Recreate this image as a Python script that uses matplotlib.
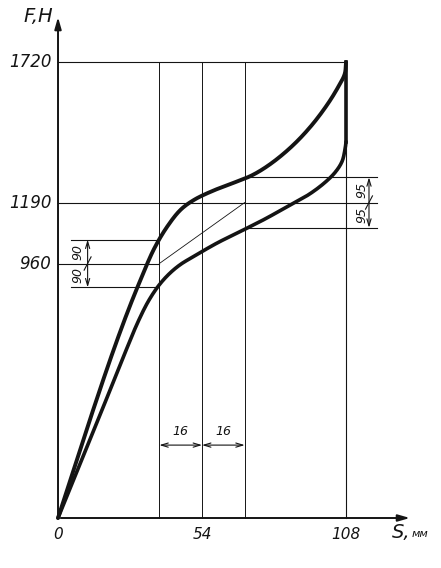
import numpy as np
import matplotlib
matplotlib.use("Agg")
import matplotlib.pyplot as plt

# ---- data ----
upper_s = [0, 12, 20, 26, 31, 36, 41, 46, 51, 58, 66, 73, 80, 88, 95, 101, 105, 107.5, 108]
upper_f = [0, 372, 610, 775, 900, 1015, 1100, 1163, 1200, 1234, 1265, 1294, 1338, 1405, 1480, 1560, 1625, 1675, 1720]
lower_s = [0, 15, 25, 30, 34, 38, 42, 46, 50.6, 59.6, 69.4, 78, 86, 94, 100, 104, 106.5, 107.6, 108]
lower_f = [0, 370, 620, 740, 820, 880, 924, 957, 985, 1037, 1086, 1130, 1175, 1220, 1265, 1305, 1345, 1390, 1420]

f_ticks = [960, 1190, 1720]
s_ticks = [0, 54, 108]
s_marks = [38, 54, 70]
f_mid = 960
f_band = 90
f_mid_r = 1190
f_band_r = 95
ds = 16

INK = "#141414"
FONT = dict(family="DejaVu Sans", style="italic", color=INK)

SX, SY = 2.667, 0.2651  # data units -> approx pixels, for spline parametrisation


def smooth(xs, ys, n=16):
    P = np.column_stack([np.asarray(xs, float) * SX, np.asarray(ys, float) * SY])
    P = np.vstack([2 * P[0] - P[1], P, 2 * P[-1] - P[-2]])
    out = []
    for i in range(1, len(P) - 2):
        p0, p1, p2, p3 = P[i - 1], P[i], P[i + 1], P[i + 2]
        t0 = 0.0
        t1 = t0 + max(np.linalg.norm(p1 - p0), 1e-6) ** 0.5
        t2 = t1 + max(np.linalg.norm(p2 - p1), 1e-6) ** 0.5
        t3 = t2 + max(np.linalg.norm(p3 - p2), 1e-6) ** 0.5
        for t in np.linspace(t1, t2, n, endpoint=False):
            a1 = (t1 - t) / (t1 - t0) * p0 + (t - t0) / (t1 - t0) * p1
            a2 = (t2 - t) / (t2 - t1) * p1 + (t - t1) / (t2 - t1) * p2
            a3 = (t3 - t) / (t3 - t2) * p2 + (t - t2) / (t3 - t2) * p3
            b1 = (t2 - t) / (t2 - t0) * a1 + (t - t0) / (t2 - t0) * a2
            b2 = (t3 - t) / (t3 - t1) * a2 + (t - t1) / (t3 - t1) * a3
            out.append((t2 - t) / (t2 - t1) * b1 + (t - t1) / (t2 - t1) * b2)
    out.append(P[-2])
    out = np.array(out)
    return out[:, 0] / SX, out[:, 1] / SY


fig = plt.figure(figsize=(4.41, 5.68), dpi=100)
ax = fig.add_axes([0, 0, 1, 1])
ax.set_xlim(-21.75, 143.6)
ax.set_ylim(-188.6, 1954)
ax.axis("off")

thin = dict(color=INK, lw=0.8)

# axes with arrows
ax.annotate("", xy=(0, 1900), xytext=(0, 0),
            arrowprops=dict(arrowstyle="-|>,head_length=0.7,head_width=0.2", color=INK, lw=1.4))
ax.annotate("", xy=(133, 0), xytext=(0, 0),
            arrowprops=dict(arrowstyle="-|>,head_length=0.7,head_width=0.2", color=INK, lw=1.4))

# horizontal reference lines
ax.plot([0, 108], [1720, 1720], **thin)
ax.plot([0, 119.5], [f_mid_r, f_mid_r], **thin)
ax.plot([0, s_marks[0]], [f_mid, f_mid], **thin)
ax.plot([s_marks[0], s_marks[2]], [f_mid, f_mid_r], color=INK, lw=0.6)
ax.plot([5, 38], [f_mid + f_band, f_mid + f_band], **thin)
ax.plot([5, 37], [f_mid - f_band, f_mid - f_band], **thin)
ax.plot([72, 119.5], [f_mid_r + f_band_r, f_mid_r + f_band_r], **thin)
ax.plot([70, 119.5], [f_mid_r - f_band_r, f_mid_r - f_band_r], **thin)

# vertical reference lines
for s in s_marks:
    ax.plot([s, s], [0, 1720], color=INK, lw=0.7)
ax.plot([108, 108], [0, 1720], **thin)

# curves
xu, yu = smooth(upper_s, upper_f)
xl, yl = smooth(lower_s, lower_f)
ax.plot(xu, yu, color=INK, lw=2.8, solid_capstyle="round")
ax.plot(xl, yl, color=INK, lw=2.6, solid_capstyle="round")
ax.plot([108, 108], [lower_f[-1], 1720], color=INK, lw=2.6)

# dimension: 90 / 90 on the left
dim_x = 11.1
arr = dict(arrowstyle="<->,head_length=0.5,head_width=0.15", color=INK, lw=0.8, shrinkA=0, shrinkB=0)
ax.annotate("", xy=(dim_x, f_mid + f_band), xytext=(dim_x, f_mid - f_band), arrowprops=arr)
ax.plot([dim_x - 1.3, dim_x + 1.3], [f_mid - 25, f_mid + 25], color=INK, lw=0.8)
ax.text(dim_x - 3.6, f_mid + f_band / 2, "90", rotation=90, ha="center", va="center", fontsize=9, **FONT)
ax.text(dim_x - 3.6, f_mid - f_band / 2, "90", rotation=90, ha="center", va="center", fontsize=9, **FONT)

# dimension: 95 / 95 on the right
dim_xr = 116.6
ax.annotate("", xy=(dim_xr, f_mid_r + f_band_r), xytext=(dim_xr, f_mid_r - f_band_r), arrowprops=arr)
ax.plot([dim_xr - 1.3, dim_xr + 1.3], [f_mid_r - 25, f_mid_r + 25], color=INK, lw=0.8)
ax.text(dim_xr - 2.6, f_mid_r + f_band_r / 2, "95", rotation=90, ha="center", va="center", fontsize=9, **FONT)
ax.text(dim_xr - 2.6, f_mid_r - f_band_r / 2, "95", rotation=90, ha="center", va="center", fontsize=9, **FONT)

# dimension: 16 / 16 at the bottom
dim_y = 275
ax.annotate("", xy=(s_marks[0], dim_y), xytext=(s_marks[1], dim_y), arrowprops=arr)
ax.annotate("", xy=(s_marks[1], dim_y), xytext=(s_marks[2], dim_y), arrowprops=arr)
ax.text((s_marks[0] + s_marks[1]) / 2, dim_y + 25, "16", ha="center", va="bottom", fontsize=9, **FONT)
ax.text((s_marks[1] + s_marks[2]) / 2, dim_y + 25, "16", ha="center", va="bottom", fontsize=9, **FONT)

# tick labels
for f in f_ticks:
    ax.text(-2.5, f, str(f), ha="right", va="center", fontsize=12, **FONT)
for s in s_ticks:
    ax.text(s, -35, str(s), ha="center", va="top", fontsize=11, **FONT)

# axis labels
ax.text(-13, 1890, "F,H", ha="left", va="center", fontsize=14, **FONT)
ax.text(125, -55, "S,", ha="left", va="center", fontsize=14, **FONT)
ax.text(132.5, -62, "мм", ha="left", va="center", fontsize=8, **FONT)

fig.savefig("out.png", dpi=100, facecolor="white")
